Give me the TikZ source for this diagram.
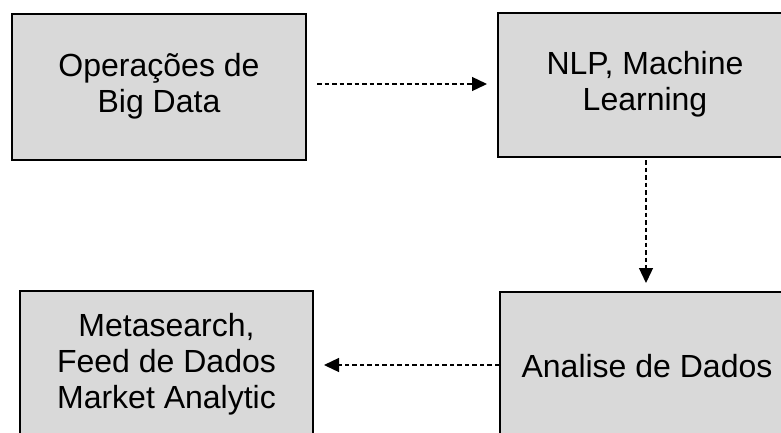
\documentclass[tikz,border=0pt]{standalone}
\usepackage{fontspec}
\setmainfont{Liberation Sans}
\usetikzlibrary{arrows.meta}
\definecolor{boxgray}{RGB}{217,217,217}
\tikzset{
  box/.style={draw=black, line width=2pt, fill=boxgray, minimum width=294pt, align=center,
    font=\fontsize{32pt}{36pt}\selectfont, inner sep=0pt},
  arr/.style={line width=1.3pt, dash pattern=on 4.5pt off 3pt, -{Triangle[length=15pt,width=14pt]}}
}
\begin{document}
\begin{tikzpicture}[x=1pt,y=-1pt]
\useasboundingbox (0,0) rectangle (781,432);
\clip (0,0) rectangle (781,432);
\fill[white] (0,0) rectangle (781,432);
\node[box, minimum height=146pt] (a) at (159,87) {\raisebox{-3pt}{\begin{tabular}{@{}c@{}}Operações de\\Big Data\end{tabular}}};
\node[box, minimum height=144pt] (b) at (645,85) {\raisebox{-3pt}{\begin{tabular}{@{}c@{}}NLP, Machine\\Learning\end{tabular}}};
\node[box, minimum width=293pt, minimum height=146pt] (c) at (166.5,364) {Metasearch,\\Feed de Dados\\Market Analytic};
\node[box, minimum height=148pt] (d) at (647,366) {Analise de Dados};
\draw[arr, shorten <=10pt, shorten >=10pt] ([yshift=3pt]a.east) -- ([yshift=3pt]a.east -| b.west);
\draw[arr, shorten <=2pt, shorten >=8pt] ([xshift=1pt]b.south) -- ([xshift=1pt]b.south |- d.north);
\draw[arr, shorten >=10pt] ([yshift=1pt]d.west) -- ([yshift=1pt]d.west -| c.east);
\end{tikzpicture}
\end{document}
